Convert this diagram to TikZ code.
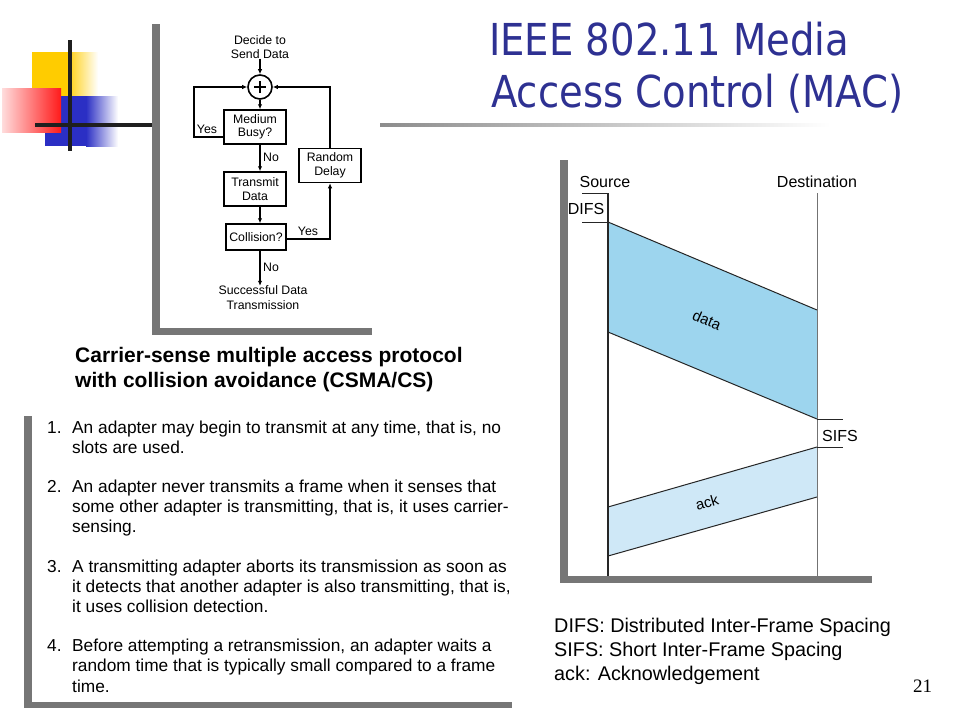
\documentclass[tikz,border=0pt]{standalone}
\usepackage{fontspec}
\setmainfont{Liberation Sans}
\newfontfamily\titlefont[FakeStretch=0.877]{DejaVu Sans}
\newfontfamily\pagefont{Liberation Serif}
\usetikzlibrary{arrows.meta}
\definecolor{titleblue}{RGB}{46,49,146}
\definecolor{framegray}{RGB}{118,118,118}
\definecolor{logoyellow}{RGB}{255,204,0}
\definecolor{logored}{RGB}{255,26,26}
\definecolor{logoblue}{RGB}{43,47,196}
\definecolor{datablue}{RGB}{157,213,238}
\definecolor{ackblue}{RGB}{207,232,247}
\newcommand\myfcfont{\fontsize{12.3}{13.5}\selectfont}
\newcommand\mylistfont{\fontsize{17.3}{20}\selectfont}
\begin{document}
\begin{tikzpicture}[x=1pt,y=-1pt,
  fcbox/.style={draw, line width=1.5pt, minimum width=62pt, minimum height=34pt, align=center, font=\myfcfont, inner sep=1pt},
  arr/.style={line width=1.5pt, -{Latex[length=5pt,width=4.5pt]}},
  lbl/.style={font=\myfcfont, inner sep=0pt},
  listline/.style={anchor=base west, inner sep=0pt, font=\mylistfont},
  legline/.style={anchor=base west, inner sep=0pt, font=\fontsize{19.8}{22}\selectfont},
  capline/.style={anchor=base west, inner sep=0pt, font=\fontsize{21}{24}\selectfont\bfseries},
  tlabel/.style={anchor=base, inner sep=0pt, font=\fontsize{16}{18}\selectfont},
  frame/.style={fill=framegray},
  tick/.style={line width=1pt, draw=black!85},
  pkt/.style={draw=black!85, line width=1pt, line join=miter}
]
\useasboundingbox[fill=white] (0,0) rectangle (960,720);

% ---------------- logo ----------------
\fill[logoyellow] (32,52) rectangle (66,97);
\shade[left color=logoyellow, right color=white] (66,52) rectangle (98,97);
\fill[logoblue] (45,96) rectangle (86,146);
\shade[left color=logoblue, right color=white] (86,96) rectangle (118,146);
\shade[left color=white!85!logored, right color=logored] (2,88) rectangle (61,132);
\draw[line width=4pt, black!88] (70,40) -- (70,151);
\draw[line width=4pt, black!88] (35,125) -- (152,125);

% ---------------- title ----------------
\node[anchor=base west, inner sep=0pt, text=titleblue, font=\titlefont\fontsize{44}{44}\selectfont] (t1) at (489,55) {IEEE 802.11 Media};
\node[anchor=base west, inner sep=0pt, text=titleblue, font=\titlefont\fontsize{44}{44}\selectfont] (t2) at (491,107) {Access Control (MAC)};
\shade[left color=black!45, right color=white] (380,123.5) rectangle (830,126.5);

% ---------------- flowchart frame ----------------
\fill[frame] (152,24) rectangle (160,335);
\fill[frame] (152,328) rectangle (372,335);

% ---------------- flowchart ----------------
\node[lbl, align=center, font=\fontsize{12.3}{14}\selectfont] (decide) at (260,47) {Decide to\\Send Data};
\node[draw, circle, line width=1.6pt, minimum size=24pt, inner sep=0pt] (sum) at (260,87) {};
\draw[line width=1.6pt] ([xshift=-6pt]sum.center) -- ([xshift=6pt]sum.center);
\draw[line width=1.6pt] ([yshift=-6pt]sum.center) -- ([yshift=6pt]sum.center);
\node[fcbox] (busy) at (255,127) {Medium\\Busy?};
\node[fcbox] (trans) at (255,189) {Transmit\\Data};
\node[fcbox, minimum width=60pt, minimum height=26pt] (coll) at (256,237) {Collision?};
\node[fcbox] (delay) at (330,165.5) {Random\\Delay};
\node[lbl, align=center, font=\fontsize{12.3}{15}\selectfont] (succ) at (263,298) {Successful Data\\Transmission};

\draw[arr] (decide.south -| sum) -- (sum.north);
\draw[arr] (sum.south) -- (sum |- busy.north);
\coordinate (yl) at (194,137);
\draw[arr] (busy.west |- yl) -- (yl) |- (sum.west);
\draw[arr] (sum |- busy.south) -- (sum |- trans.north);
\draw[arr] (sum |- trans.south) -- (sum |- coll.north);
\draw[arr] (sum |- coll.south) -- (sum |- succ.north);
\draw[arr] ([yshift=-2pt]coll.east) -| (delay.south);
\draw[arr] (delay.north) |- (sum.east);

\node[lbl] (yes1) at (207,129) {Yes};
\node[lbl] (no1) at (271,157) {No};
\node[lbl] (yes2) at (308,231) {Yes};
\node[lbl] (no2) at (271,267) {No};

% ---------------- caption ----------------
\node[capline] (cap1) at (75,362) {Carrier-sense multiple access protocol};
\node[capline] (cap2) at (75,387) {with collision avoidance (CSMA/CS)};

% ---------------- list frame ----------------
\fill[frame] (24,416) rectangle (32,708);
\fill[frame] (24,702) rectangle (512,708);

% ---------------- list ----------------
\node[listline] (n1) at (47,433) {1.};
\node[listline] (l11) at (72,433) {An adapter may begin to transmit at any time, that is, no};
\node[listline] (l12) at (72,453) {slots are used.};
\node[listline] (n2) at (47,492) {2.};
\node[listline] (l21) at (72,492) {An adapter never transmits a frame when it senses that};
\node[listline] (l22) at (72,512) {some other adapter is transmitting, that is, it uses carrier-};
\node[listline] (l23) at (72,532) {sensing.};
\node[listline] (n3) at (47,572) {3.};
\node[listline] (l31) at (72,572) {A transmitting adapter aborts its transmission as soon as};
\node[listline] (l32) at (72,592) {it detects that another adapter is also transmitting, that is,};
\node[listline] (l33) at (72,612) {it uses collision detection.};
\node[listline] (n4) at (47,651) {4.};
\node[listline] (l41) at (72,651) {Before attempting a retransmission, an adapter waits a};
\node[listline] (l42) at (72,671) {random time that is typically small compared to a frame};
\node[listline] (l43) at (72,692) {time.};

% ---------------- timing diagram frame ----------------
\fill[frame] (560,160) rectangle (568,583);
\fill[frame] (560,576) rectangle (872,583);

% ---------------- timing diagram ----------------
\coordinate (s0) at (608,193);
\coordinate (s1) at (608,222);
\coordinate (s2) at (608,332);
\coordinate (s3) at (608,507);
\coordinate (s4) at (608,556);
\coordinate (sb) at (608,576);
\coordinate (d0) at (817,193);
\coordinate (d1) at (817,310);
\coordinate (d2) at (817,419);
\coordinate (d3) at (817,447);
\coordinate (d4) at (817,497);
\coordinate (db) at (817,576);

\fill[datablue] (s1) -- (d1) -- (d2) -- (s2) -- cycle;
\fill[ackblue] (d3) -- (s3) -- (s4) -- (d4) -- cycle;
\draw[pkt] (s1) -- (d1);
\draw[pkt] (s2) -- (d2);
\draw[pkt] (d3) -- (s3);
\draw[pkt] (d4) -- (s4);
\draw[line width=1.2pt, black!85] (s0) -- (sb);
\draw[line width=0.9pt, black!55] (d0) -- (db);
\draw[tick] (s0) -- ++(-26,0);
\draw[tick] (s1) -- ++(-26,0);
\draw[tick] (d2) -- ++(26,0);
\draw[tick] (d3) -- ++(26,0);

\node[tlabel] (src) at (605,187) {Source};
\node[tlabel] (dst) at (817,187) {Destination};
\node[tlabel] (difs) at (586,214) {DIFS};
\node[tlabel] (sifs) at (840,441) {SIFS};
\node[inner sep=0pt, font=\fontsize{15}{16}\selectfont, rotate=-23] (datalbl) at (707,320) {data};
\node[inner sep=0pt, font=\fontsize{15}{16}\selectfont, rotate=16] (acklbl) at (707,502) {ack};

% ---------------- legend ----------------
\node[legline] (g1) at (554,632) {DIFS: Distributed Inter-Frame Spacing};
\node[legline] (g2) at (554,656) {SIFS: Short Inter-Frame Spacing};
\node[legline] (g3) at (554,680) {ack: Acknowledgement};
\node[anchor=base west, inner sep=0pt, font=\pagefont\fontsize{19}{20}\selectfont] (pg) at (913,692) {21};
\end{tikzpicture}
\end{document}
